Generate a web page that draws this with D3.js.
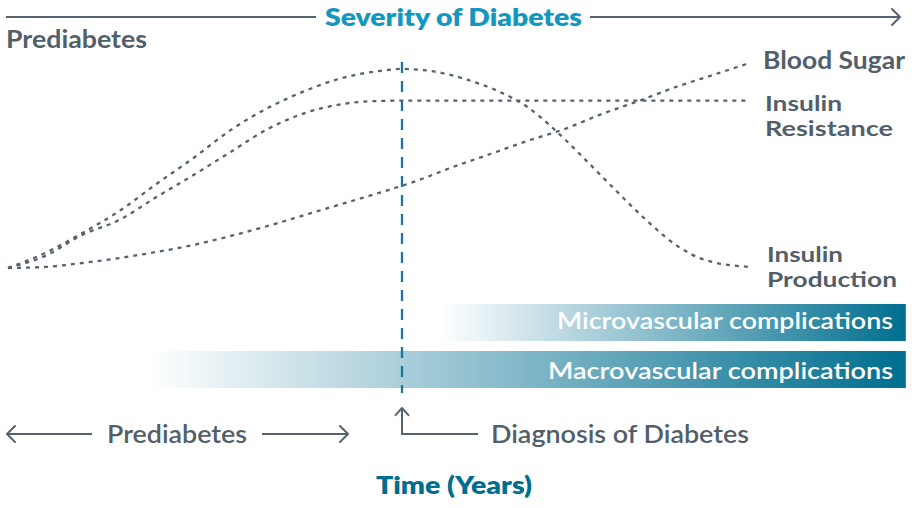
<!DOCTYPE html>
<html>
<head>
<meta charset="utf-8">
<script src="https://cdn.jsdelivr.net/npm/d3@7/dist/d3.min.js"></script>
<style>
  html, body { margin: 0; padding: 0; background: #ffffff; }
  svg { display: block; }
  text { font-family: Lato, "Noto Sans", sans-serif; }
</style>
</head>
<body>
<svg id="chart" width="912" height="508"></svg>
<script>
// ---- Data (time 0..100, level 0..100) ----
const insulinProductionX = [0, 5, 10, 15, 20, 25, 30, 35, 40, 45, 50, 53, 57, 62, 66, 70, 74, 78, 82, 86, 90, 94, 100];
const insulinProductionY = [0, 7.2, 16.8, 27.4, 40.4, 52.9, 66.3, 76.9, 85.1, 91.3, 94.7, 95.7, 94.7, 90.4, 85.1, 77.4, 65.4, 51.4, 37, 23.1, 11.1, 3.8, 0.5];

const insulinResistanceX = [0, 5, 10, 15, 20, 25, 30, 35, 40, 45, 50, 55, 70, 85, 100];
const insulinResistanceY = [0, 5.8, 15.9, 23.1, 34.1, 44.7, 55.8, 66.8, 74.5, 78.8, 80.3, 80.5, 80.5, 80.5, 80.5];

const bloodSugarX = [0, 5, 10, 15, 20, 25, 30, 35, 40, 45, 50, 55, 60, 65, 70, 75, 80, 85, 90, 95, 100];
const bloodSugarY = [0, 0.5, 2.4, 4.8, 7.7, 11.1, 15.4, 20.2, 25.5, 30.8, 36.1, 41.8, 48.6, 54.8, 61.1, 66.8, 74, 80.3, 87, 92.8, 98.6];

const diagnosisTime = 53.1;

const complicationNames = ["Microvascular complications", "Macrovascular complications"];
const complicationStart = [58.2, 19.1];
const complicationEnd = [121, 121];

const seriesLabels = [["Blood Sugar"], ["Insulin", "Resistance"], ["Insulin", "Production"]];

// ---- Setup ----
const svg = d3.select("#chart");
const x = d3.scaleLinear().domain([0, 100]).range([8, 750]);
const y = d3.scaleLinear().domain([0, 100]).range([268, 60]);

const textColor = "#525f6b";
const lineColor = "#56636f";
const teal = "#1497bf";
const darkTeal = "#006e8f";

// gradient
const defs = svg.append("defs");
const grad = defs.append("linearGradient").attr("id", "barGrad")
  .attr("x1", "0%").attr("x2", "100%").attr("y1", "0%").attr("y2", "0%");
grad.append("stop").attr("offset", "0%").attr("stop-color", "#ffffff");
grad.append("stop").attr("offset", "100%").attr("stop-color", darkTeal);

function chevron(x0, y0, dir) {
  const s = 8;
  let p;
  if (dir === "right") p = [[x0 - s, y0 - s], [x0, y0], [x0 - s, y0 + s]];
  if (dir === "left") p = [[x0 + s, y0 - s], [x0, y0], [x0 + s, y0 + s]];
  if (dir === "up") p = [[x0 - s * 0.8, y0 + s * 0.9], [x0, y0], [x0 + s * 0.8, y0 + s * 0.9]];
  svg.append("path").attr("d", d3.line()(p))
    .attr("fill", "none").attr("stroke", lineColor).attr("stroke-width", 2)
    .attr("stroke-linecap", "round").attr("stroke-linejoin", "round");
}
function hline(x1, x2, yy) {
  svg.append("line").attr("x1", x1).attr("x2", x2).attr("y1", yy).attr("y2", yy)
    .attr("stroke", lineColor).attr("stroke-width", 2);
}

// ---- Complication bars ----
const barY = [304, 351];
const barH = 37;
complicationNames.forEach((name, i) => {
  const x0 = x(complicationStart[i]), x1 = x(complicationEnd[i]);
  svg.append("rect").attr("x", x0).attr("y", barY[i]).attr("width", x1 - x0).attr("height", barH)
    .attr("fill", "url(#barGrad)");
});
svg.append("text").attr("x", 893).attr("y", 329).attr("text-anchor", "end")
  .attr("fill", "#ffffff").attr("font-size", 22).attr("font-weight", 600)
  .attr("textLength", 336).attr("lengthAdjust", "spacingAndGlyphs")
  .text(complicationNames[0]);
svg.append("text").attr("x", 893).attr("y", 379).attr("text-anchor", "end")
  .attr("fill", "#ffffff").attr("font-size", 22).attr("font-weight", 600)
  .attr("textLength", 345).attr("lengthAdjust", "spacingAndGlyphs")
  .text(complicationNames[1]);

// ---- Diagnosis dashed vertical line ----
svg.append("line").attr("x1", x(diagnosisTime)).attr("x2", x(diagnosisTime))
  .attr("y1", 62).attr("y2", 393)
  .attr("stroke", "#16789c").attr("stroke-width", 2.3).attr("stroke-dasharray", "11,8");

// ---- Curves ----
const series = [
  d3.zip(insulinProductionX, insulinProductionY),
  d3.zip(insulinResistanceX, insulinResistanceY),
  d3.zip(bloodSugarX, bloodSugarY)
];
const lineGen = d3.line().x(d => x(d[0])).y(d => y(d[1])).curve(d3.curveMonotoneX);
series.forEach(s => {
  svg.append("path").datum(s).attr("d", lineGen)
    .attr("fill", "none").attr("stroke", lineColor).attr("stroke-width", 2.3)
    .attr("stroke-dasharray", "4,5");
});

// ---- Series labels ----
function label(lines, x0, ys, lengths, fs) {
  lines.forEach((t, i) => {
    svg.append("text").attr("x", x0).attr("y", ys[i]).attr("fill", textColor)
      .attr("font-size", fs).attr("font-weight", 700)
      .attr("textLength", lengths[i]).attr("lengthAdjust", "spacingAndGlyphs").text(t);
  });
}
label(seriesLabels[0], 763, [69], [142], 24);
label(seriesLabels[1], 765, [111, 136], [77, 128], 20);
label(seriesLabels[2], 767, [262, 287], [76, 130], 20);

// ---- Top axis: Severity of Diabetes ----
hline(6, 316, 17);
hline(590, 900, 17);
chevron(900, 17, "right");
svg.append("text").attr("x", 325).attr("y", 26).attr("fill", teal)
  .attr("font-size", 25).attr("font-weight", 800)
  .attr("textLength", 257).attr("lengthAdjust", "spacingAndGlyphs").text("Severity of Diabetes");
svg.append("text").attr("x", 6).attr("y", 48).attr("fill", textColor)
  .attr("font-size", 24).attr("font-weight", 700)
  .attr("textLength", 141).attr("lengthAdjust", "spacingAndGlyphs").text("Prediabetes");

// ---- Bottom axis ----
hline(7, 92, 434);
chevron(7, 434, "left");
svg.append("text").attr("x", 107).attr("y", 443).attr("fill", textColor)
  .attr("font-size", 24).attr("font-weight", 600)
  .attr("textLength", 140).attr("lengthAdjust", "spacingAndGlyphs").text("Prediabetes");
hline(262, 348, 434);
chevron(348, 434, "right");

// diagnosis pointer
svg.append("path").attr("d", d3.line()([[x(diagnosisTime), 434], [x(diagnosisTime), 408]]))
  .attr("stroke", lineColor).attr("stroke-width", 2).attr("fill", "none");
hline(x(diagnosisTime) - 1, 478, 434);
chevron(x(diagnosisTime), 408, "up");
svg.append("text").attr("x", 491).attr("y", 443).attr("fill", textColor)
  .attr("font-size", 24).attr("font-weight", 600)
  .attr("textLength", 258).attr("lengthAdjust", "spacingAndGlyphs").text("Diagnosis of Diabetes");

svg.append("text").attr("x", 376).attr("y", 494).attr("fill", darkTeal)
  .attr("font-size", 24).attr("font-weight", 800)
  .attr("textLength", 156).attr("lengthAdjust", "spacingAndGlyphs").text("Time (Years)");
</script>
</body>
</html>
